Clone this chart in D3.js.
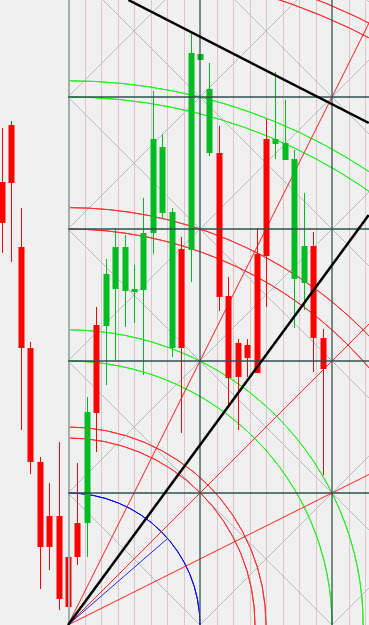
<!DOCTYPE html>
<html>
<head>
<meta charset="utf-8">
<script src="https://cdn.jsdelivr.net/npm/d3@7"></script>
<style>
  html, body { margin: 0; padding: 0; background: #f0f0f0; }
  svg { display: block; }
</style>
</head>
<body>
<svg id="viz" width="369" height="625"></svg>
<script>
// Candles: bar index, open, high, low, close (price units = pixels above bottom)
const bars   = d3.range(35);
const opens  = [443, 500, 378, 277, 163, 109, 109, 68, 102, 102, 300, 299, 336, 334, 333, 335, 392, 412, 277, 376, 375, 565, 472, 472, 329, 282, 280, 371, 486, 481, 465, 346, 342, 379, 287];
const highs  = [497, 504, 417, 283, 168, 142, 183, 97, 162, 228, 318, 366, 397, 390, 360, 427, 534, 491, 417, 388, 593, 571, 562, 499, 348, 286, 286, 397, 506, 553, 525, 475, 432, 393, 296];
const lows   = [372, 363, 195, 151, 36, 55, 15, 5, 60, 68, 173, 240, 265, 298, 302, 250, 371, 406, 268, 192, 343, 565, 469, 314, 220, 195, 248, 252, 318, 466, 465, 297, 315, 253, 150];
const closes = [402, 442, 277, 163, 78, 78, 26, 18, 68, 213, 212, 351, 378, 378, 336, 392, 486, 478, 413, 277, 572, 571, 536, 328, 247, 248, 267, 252, 369, 486, 482, 466, 379, 287, 256];

// Gann box: origin bar/price, one square = 14 bars x 132 price
const gannOrigin = { bar: 7, price: 0 };
const squareBars = 14;
const squarePrice = 132;
// arc radii in squares, with colours
const arcRadii  = [1, 1.417, 1.5, 2, 2.236, 3, 3.162, 4, 4.123, 5, 5.099];
const arcColors = ['#0000ff', '#ff3030', '#ff3030', '#22ee22', '#22ee22', '#ff3030', '#ff3030', '#22ee22', '#22ee22', '#ff3030', '#ff3030'];
// fan lines from origin, slope in squares (price/time)
const fanSlopes = [2, 1, 0.5];
// blue radius: angle in degrees, length in squares
const blueRadius = { angle: 41, length: 1 };

// Trend lines [bar, price]
const trendLines = [
  [[7, 0], [38.9, 410]],
  [[13.4, 625], [38.9, 502]]
];

const W = 369, H = 625;
const svg = d3.select('#viz');
const x = d3.scaleLinear().domain([7, 21]).range([68, 200]);
const y = d3.scaleLinear().domain([0, 625]).range([625, 0]);

svg.append('rect').attr('width', W).attr('height', H).attr('fill', '#f0f0f0');

const ox = x(gannOrigin.bar), oy = y(gannOrigin.price);
const sq = x(gannOrigin.bar + squareBars) - ox;   // square side, px

const grid = svg.append('g');

// fine vertical lines, 8 per square
for (let k = 1; ox + k * sq / 8 < W; k++) {
  if (k % 8 === 0) continue;
  const xx = Math.round(ox + k * sq / 8) + 0.5;
  grid.append('line')
      .attr('x1', xx).attr('x2', xx).attr('y1', 0).attr('y2', H)
      .attr('stroke', '#dcc6c6').attr('stroke-width', 1);
}

// diagonals in every square
for (let c = 0; ox + c * sq < W; c++) {
  for (let r = 0; oy - r * sq > -sq; r++) {
    const x0 = ox + c * sq, y0 = oy - r * sq;
    grid.append('line')
        .attr('x1', x0).attr('y1', y0).attr('x2', x0 + sq).attr('y2', y0 - sq)
        .attr('stroke', '#b8bcc4').attr('stroke-width', 1);
    grid.append('line')
        .attr('x1', x0).attr('y1', y0 - sq).attr('x2', x0 + sq).attr('y2', y0)
        .attr('stroke', '#b8bcc4').attr('stroke-width', 1);
  }
}

// arcs centred on origin
const arc = d3.arc();
arcRadii.forEach((r, i) => {
  const rp = r * sq;
  grid.append('path')
      .attr('transform', `translate(${ox},${oy})`)
      .attr('d', arc({ innerRadius: rp, outerRadius: rp, startAngle: 0, endAngle: Math.PI / 2 }))
      .attr('fill', 'none')
      .attr('stroke', arcColors[i]).attr('stroke-width', 1);
});

// fan lines
fanSlopes.forEach(s => {
  const len = 2000;
  const a = Math.atan(s);
  grid.append('line')
      .attr('x1', ox).attr('y1', oy)
      .attr('x2', ox + len * Math.cos(a)).attr('y2', oy - len * Math.sin(a))
      .attr('stroke', '#ff2020').attr('stroke-width', 1);
});
const ba = blueRadius.angle * Math.PI / 180;
grid.append('line')
    .attr('x1', ox).attr('y1', oy)
    .attr('x2', ox + blueRadius.length * sq * Math.cos(ba))
    .attr('y2', oy - blueRadius.length * sq * Math.sin(ba))
    .attr('stroke', '#2020ff').attr('stroke-width', 1);

// candles
const candles = svg.append('g');
bars.forEach(i => {
  const up = closes[i] >= opens[i];
  const col = up ? '#00bb22' : '#ff0000';
  const cx = Math.round(x(i));
  candles.append('line')
      .attr('x1', cx + 0.5).attr('x2', cx + 0.5)
      .attr('y1', y(highs[i])).attr('y2', y(lows[i]))
      .attr('stroke', col).attr('stroke-width', 1);
  const top = y(Math.max(opens[i], closes[i]));
  const bot = y(Math.min(opens[i], closes[i]));
  candles.append('rect')
      .attr('x', cx - 2.5).attr('y', top)
      .attr('width', 6).attr('height', Math.max(1, bot - top))
      .attr('fill', col);
});

// main square lines
const main = svg.append('g');
main.append('line')
    .attr('x1', ox + 1).attr('x2', ox + 1).attr('y1', 0).attr('y2', H)
    .attr('stroke', '#a4acac').attr('stroke-width', 2);
for (let c = 1; ox + c * sq < W; c++) {
  const xx = ox + c * sq;
  main.append('line')
      .attr('x1', xx).attr('x2', xx).attr('y1', 0).attr('y2', H)
      .attr('stroke', '#2f4f4f').attr('stroke-opacity', 0.85).attr('stroke-width', 1.5);
}
for (let r = 1; oy - r * sq > 0; r++) {
  const yy = oy - r * sq;
  main.append('line')
      .attr('x1', ox).attr('x2', W).attr('y1', yy).attr('y2', yy)
      .attr('stroke', '#2f4f4f').attr('stroke-opacity', 0.75).attr('stroke-width', 2);
}

// trend lines (extended to the right)
trendLines.forEach(([p0, p1]) => {
  const x0 = x(p0[0]), y0 = y(p0[1]), x1 = x(p1[0]), y1 = y(p1[1]);
  svg.append('line')
     .attr('x1', x0).attr('y1', y0).attr('x2', x1).attr('y2', y1)
     .attr('stroke', '#000').attr('stroke-width', 2.5);
});
</script>
</body>
</html>
